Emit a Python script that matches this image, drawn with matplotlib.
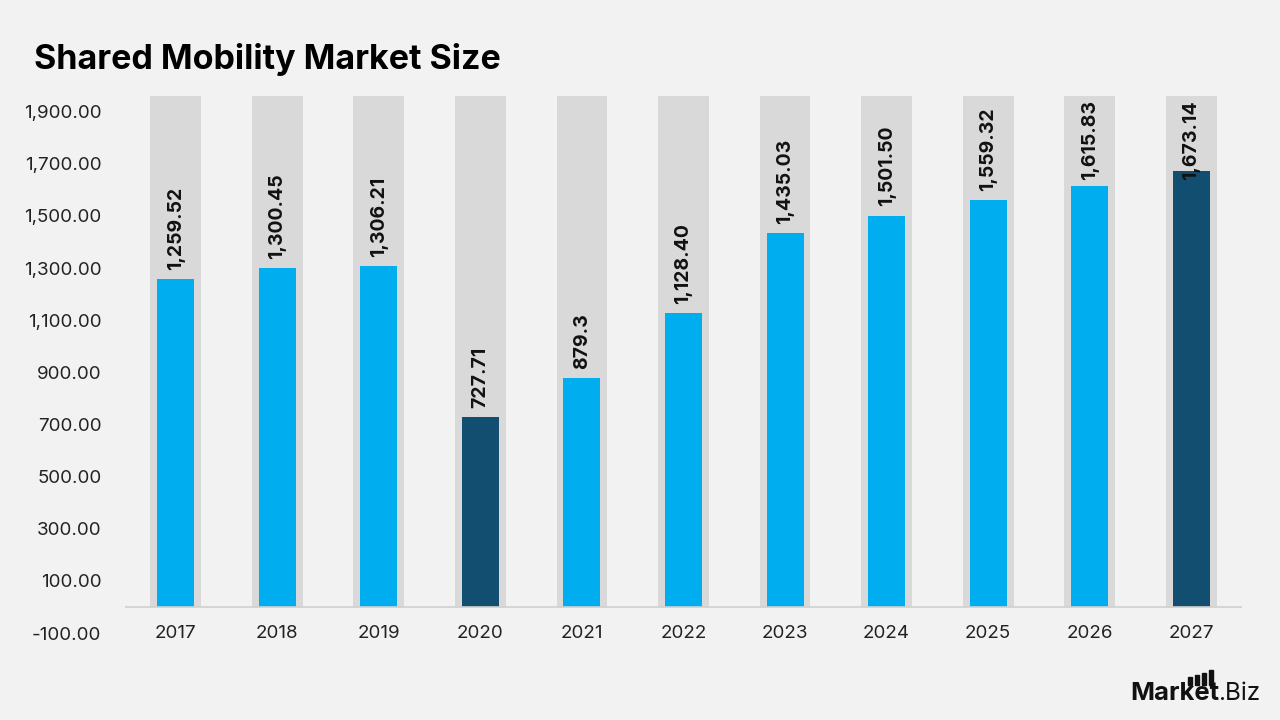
import matplotlib
matplotlib.use("Agg")
import matplotlib.pyplot as plt
from matplotlib.patches import Rectangle

years = ["2017", "2018", "2019", "2020", "2021", "2022", "2023", "2024", "2025", "2026", "2027"]
values = [1259.52, 1300.45, 1306.21, 727.71, 879.3, 1128.40, 1435.03, 1501.50, 1559.32, 1615.83, 1673.14]
value_labels = ["1,259.52", "1,300.45", "1,306.21", "727.71", "879.3", "1,128.40",
                "1,435.03", "1,501.50", "1,559.32", "1,615.83", "1,673.14"]
highlight = ["2020", "2027"]
yticks = [-100, 100, 300, 500, 700, 900, 1100, 1300, 1500, 1700, 1900]
ytick_labels = ["-100.00", "100.00", "300.00", "500.00", "700.00", "900.00",
                "1,100.00", "1,300.00", "1,500.00", "1,700.00", "1,900.00"]

BG = "#F2F2F2"
GREY = "#D9D9D9"
BLUE = "#00AEEF"
DARK = "#124E70"
FONT = ["Inter", "DejaVu Sans"]

plt.rcParams["font.family"] = FONT

fig = plt.figure(figsize=(12.8, 7.2), dpi=100, facecolor=BG)
ax = fig.add_axes([125 / 1280, 1 - 633 / 720, (1242 - 125) / 1280, (633 - 96) / 720])
ax.set_facecolor(BG)

ytop = 1960
x = list(range(len(years)))
ax.bar(x, [ytop] * len(years), width=0.5, color=GREY, zorder=1)
colors = [DARK if y in highlight else BLUE for y in years]
ax.bar(x, values, width=0.365, color=colors, zorder=2)

ax.set_xlim(-0.5, len(years) - 0.5)
ax.set_ylim(-100, ytop)
ax.axhline(0, color="#D0D0D0", lw=1.2, zorder=3)

texts = []
for i, (v, lab) in enumerate(zip(values, value_labels)):
    t = ax.annotate(lab, (i, v), xytext=(0, 6.5), textcoords="offset points",
                    rotation=90, ha="center", va="bottom", fontsize=14,
                    fontweight="bold", color="#111111", zorder=4)
    texts.append(t)

ax.set_yticks(yticks)
ax.set_yticklabels(ytick_labels, fontsize=13.5, color="#222222")
ax.set_xticks(x)
ax.set_xticklabels(years, fontsize=13.5, color="#222222")
ax.tick_params(axis="both", length=0)
ax.tick_params(axis="y", pad=17)
ax.tick_params(axis="x", pad=-6)
for s in ax.spines.values():
    s.set_visible(False)

fig.text(34 / 1280, 1 - 59 / 720, "Shared Mobility Market Size", fontsize=24.5,
         fontweight="bold", color="#000000", va="center", ha="left")

# keep value labels inside the grey columns
fig.canvas.draw()
r = fig.canvas.get_renderer()
ax_top_px = ax.get_window_extent(r).y1
for t in texts:
    bb = t.get_window_extent(r)
    limit = ax_top_px - 4
    if bb.y1 > limit:
        shift = (bb.y1 - limit) * 72 / fig.dpi
        ox, oy = t.xyann
        t.xyann = (ox, oy - shift)

# logo
fig.text(1130 / 1280, 1 - 693 / 720, "Market", fontsize=18.5, fontweight="bold",
         color="#111111", va="center", ha="left")
fig.text(1218 / 1280, 1 - 693 / 720, ".Biz", fontsize=17.5, fontweight="normal",
         color="#111111", va="center", ha="left")
for bx, top in [(1188, 677), (1195, 675), (1202, 673), (1209, 670)]:
    fig.patches.append(Rectangle((bx / 1280, 1 - 685 / 720), 3.5 / 1280, (685 - top) / 720,
                                 transform=fig.transFigure, color="#111111"))

fig.savefig("out.png", dpi=100, facecolor=BG)
